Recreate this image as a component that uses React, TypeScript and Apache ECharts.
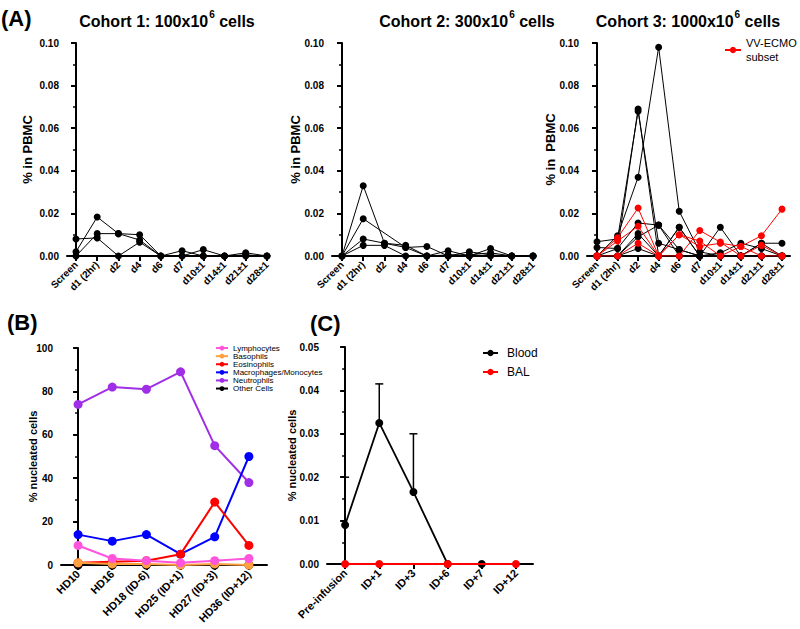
import React, { useEffect, useRef } from "react";
import * as echarts from "echarts";

// ---------- Panel A ----------
const catsA = ["Screen", "d1 (2hr)", "d2", "d4", "d6", "d7", "d10±1", "d14±1", "d21±1", "d28±1"];
const yTicksA = [0, 0.02, 0.04, 0.06, 0.08, 0.1];

const cohort1 = [
  [0.002, 0.0183, 0.0105, 0.010, 0, 0.0025, 0, 0, 0.0015, 0],
  [0, 0.0105, 0.0105, 0.0075, 0, 0, 0.003, 0, 0.0005, 0],
  [0.008, 0.0085, 0, 0.0065, 0, 0, 0, 0, 0, 0],
];
const cohort2 = [
  [0, 0.033, 0.006, 0.005, 0, 0.0025, 0, 0.0035, 0, 0],
  [0, 0.0175, null, 0.004, 0.0045, 0, 0.002, 0.0005, 0, 0],
  [0, 0.008, 0.006, 0.004, 0, 0.0005, 0.0005, 0.0015, 0, 0],
  [0, 0.005, 0.005, 0, 0, 0, 0, 0, 0, 0],
];
const cohort3Black = [
  [0.004, 0.0035, 0.069, 0, 0.0135, 0, 0.0135, 0, 0.006, 0.006],
  [0.0067, 0.008, 0.068, 0.006, 0.003, 0, 0.0015, 0.006, 0.0035, 0],
  [0, 0.0095, 0.037, 0.098, 0.021, 0.002, 0, 0, 0, 0],
  [0, 0.0035, 0.0155, 0.0145, 0, 0, 0, 0, 0, 0],
  [0, 0, 0.0105, 0, 0.0135, 0, 0, 0, 0.006, 0],
  [0, 0, 0.009, 0.0145, 0.003, 0, 0, 0, 0, 0],
  [0, 0, 0.0035, 0, 0, 0, 0, 0, 0, 0],
];
const cohort3Red = [
  [0, 0.0085, 0.0225, 0, 0.010, 0.0045, 0.006, 0.0045, 0.0095, 0.022],
  [0, 0.007, 0.014, 0, 0, 0.012, 0.0065, 0, 0.005, 0],
  [0, 0, 0.006, 0, 0.010, 0.007, 0, 0.0045, 0, 0],
];

// ---------- Panel B ----------
const catsB = ["HD10", "HD16", "HD18 (ID-6)", "HD25 (ID+1)", "HD27 (ID+3)", "HD36 (ID+12)"];
const lymphocytes = [9, 3, 2, 1, 2, 3];
const basophils = [1, 0.5, 0.5, 0, 0.5, 0];
const eosinophils = [1, 1.5, 2, 5, 29, 9];
const macrophages = [14, 11, 14, 5, 13, 50];
const neutrophils = [74, 82, 81, 89, 55, 38];
const otherCells = [0, 0, 0, 0, 0, 0];

// ---------- Panel C ----------
const catsC = ["Pre-infusion", "ID+1", "ID+3", "ID+6", "ID+7", "ID+12"];
const blood = [0.009, 0.0325, 0.0166, 0, 0, null];
const bloodUpper = [0.020, 0.0415, 0.030, null, null, null];
const bal = [0, 0, null, 0, null, 0];

const FONT = 'Arial, "Liberation Sans", Helvetica, sans-serif';

function pts(arr: (number | null)[]) {
  const out: number[][] = [];
  arr.forEach((v, i) => {
    if (v !== null && v !== undefined) out.push([i, v]);
  });
  return out;
}

function lineSeries(name: string, arr: (number | null)[], axis: number, color: string, size: number, width: number, z = 2) {
  return {
    type: "line",
    name,
    xAxisIndex: axis,
    yAxisIndex: axis,
    data: pts(arr),
    symbol: "circle",
    symbolSize: size,
    z,
    itemStyle: { color },
    lineStyle: { color, width },
    emphasis: { disabled: true },
    silent: true,
  };
}

function xAxis(grid: number, min: number, max: number, cats: string[], fontSize: number) {
  const vals = cats.map((_, i) => i);
  return {
    type: "value",
    gridIndex: grid,
    min,
    max,
    splitLine: { show: false },
    axisLine: { show: true, lineStyle: { color: "#000", width: 2 } },
    axisTick: { show: true, customValues: vals, length: 5, lineStyle: { color: "#000", width: 2 } },
    axisLabel: {
      customValues: vals,
      formatter: (v: number) => cats[Math.round(v)] ?? "",
      rotate: 45,
      margin: 7,
      color: "#000",
      fontWeight: "bold",
      fontSize,
      fontFamily: FONT,
    },
  };
}

function yAxis(grid: number, max: number, interval: number, name: string, nameGap: number, nameSize: number, digits: number) {
  return {
    type: "value",
    gridIndex: grid,
    min: 0,
    max,
    interval,
    name,
    nameLocation: "middle",
    nameGap,
    nameMoveOverlap: false,
    nameTextStyle: { color: "#000", fontWeight: "bold", fontSize: nameSize, fontFamily: FONT },
    splitLine: { show: false },
    axisLine: { show: true, lineStyle: { color: "#000", width: 2 } },
    axisTick: { show: true, length: 5, lineStyle: { color: "#000", width: 2 } },
    minorTick: { show: true, splitNumber: 2, length: 3, lineStyle: { color: "#000", width: 1.5 } },
    axisLabel: {
      margin: 8,
      color: "#000",
      fontWeight: "bold",
      fontSize: 10,
      fontFamily: FONT,
      formatter: (v: number) => v.toFixed(digits),
    },
  };
}

function titleText(x: number, y: number, pre: string, sup: string, post: string) {
  return {
    type: "text",
    x,
    y,
    style: {
      text: `{a|${pre}}{s|${sup}}{a|${post}}`,
      align: "center",
      verticalAlign: "middle",
      rich: {
        a: { fontSize: 16, fontWeight: "bold", fontFamily: FONT, fill: "#000", lineHeight: 20, verticalAlign: "bottom" },
        s: { fontSize: 10, fontWeight: "bold", fontFamily: FONT, fill: "#000", lineHeight: 20, verticalAlign: "top", padding: [0, 0, 0, 1] },
      },
    },
  };
}

function panelLabel(x: number, y: number, t: string) {
  return {
    type: "text",
    x,
    y,
    style: { text: t, fontSize: 22, fontWeight: "bold", fontFamily: FONT, fill: "#000", verticalAlign: "middle" },
  };
}

export default function App() {
  const ref = useRef<HTMLDivElement>(null);
  useEffect(() => {
    if (!ref.current) return;
    const chart = echarts.init(ref.current, null, { renderer: "svg" });

    const series: any[] = [];
    cohort1.forEach((p, i) => series.push(lineSeries("c1-" + i, p, 0, "#000", 7, 1)));
    cohort2.forEach((p, i) => series.push(lineSeries("c2-" + i, p, 1, "#000", 7, 1)));
    cohort3Black.forEach((p, i) => series.push(lineSeries("c3b-" + i, p, 2, "#000", 7, 1)));
    cohort3Red.forEach((p) => series.push(lineSeries("VV-ECMO\nsubset", p, 2, "#ff0000", 7, 1, 3)));

    series.push(lineSeries("Other Cells", otherCells, 3, "#000", 9, 2, 2));
    series.push(lineSeries("Neutrophils", neutrophils, 3, "#a02ee6", 9, 2, 3));
    series.push(lineSeries("Macrophages/Monocytes", macrophages, 3, "#0000ff", 9, 2, 4));
    series.push(lineSeries("Eosinophils", eosinophils, 3, "#ff0000", 9, 2, 5));
    series.push(lineSeries("Basophils", basophils, 3, "#ffa040", 9, 2, 6));
    series.push(lineSeries("Lymphocytes", lymphocytes, 3, "#ff55dd", 9, 2, 7));

    series.push({
      type: "custom",
      xAxisIndex: 4,
      yAxisIndex: 4,
      silent: true,
      z: 1,
      data: blood
        .map((v, i) => (v !== null && bloodUpper[i] !== null ? [i, v, bloodUpper[i]] : null))
        .filter((d) => d !== null),
      renderItem: (params: any, api: any) => {
        const p = api.coord([api.value(0), api.value(1)]);
        const t = api.coord([api.value(0), api.value(2)]);
        const st = { stroke: "#000", lineWidth: 1.5 };
        return {
          type: "group",
          children: [
            { type: "line", shape: { x1: p[0], y1: p[1], x2: t[0], y2: t[1] }, style: st },
            { type: "line", shape: { x1: t[0] - 4, y1: t[1], x2: t[0] + 4, y2: t[1] }, style: st },
          ],
        };
      },
    });
    series.push(lineSeries("Blood", blood, 4, "#000", 8, 1.8, 2));
    series.push(lineSeries("BAL", bal, 4, "#ff0000", 8, 1.8, 3));

    const option: any = {
      animation: false,
      textStyle: { fontFamily: FONT },
      grid: [
        { left: 67, top: 43, width: 201, height: 213 },
        { left: 332, top: 43, width: 203, height: 213 },
        { left: 587, top: 43, width: 203, height: 213 },
        { left: 61, top: 348, width: 206, height: 217 },
        { left: 327, top: 347, width: 206, height: 217 },
      ],
      xAxis: [
        xAxis(0, -0.424, 9.05, catsA, 10),
        xAxis(1, -0.471, 9.094, catsA, 10),
        xAxis(2, -0.486, 9.39, catsA, 10),
        xAxis(3, -0.5, 5.53, catsB, 11),
        xAxis(4, -0.53, 5.5, catsC, 11),
      ],
      yAxis: [
        yAxis(0, yTicksA[5], 0.02, "% in PBMC", 33, 13, 2),
        yAxis(1, yTicksA[5], 0.02, "% in PBMC", 30, 13, 2),
        yAxis(2, yTicksA[5], 0.02, "% in  PBMC", 30, 13, 2),
        yAxis(3, 100, 20, "% nucleated cells", 23, 11, 0),
        yAxis(4, 0.05, 0.01, "% nucleated cells", 30, 11, 2),
      ],
      legend: [
        {
          data: ["VV-ECMO\nsubset"],
          selectedMode: false,
          orient: "vertical",
          left: 724,
          top: 36,
          padding: 0,
          itemWidth: 16,
          itemHeight: 8,
          textStyle: { fontSize: 11, lineHeight: 14, color: "#000", fontFamily: FONT },
        },
        {
          data: ["Lymphocytes", "Basophils", "Eosinophils", "Macrophages/Monocytes", "Neutrophils", "Other Cells"],
          selectedMode: false,
          orient: "vertical",
          left: 215,
          top: 344,
          padding: 0,
          itemGap: 0,
          itemWidth: 12,
          itemHeight: 6,
          textStyle: { fontSize: 8, lineHeight: 8.1, color: "#000", fontFamily: FONT },
        },
        {
          data: ["Blood", "BAL"],
          selectedMode: false,
          orient: "vertical",
          left: 482,
          top: 346,
          padding: 0,
          itemGap: 5,
          itemWidth: 15,
          itemHeight: 8,
          textStyle: { fontSize: 12, lineHeight: 14, color: "#000", fontFamily: FONT, padding: [0, 0, 0, 4] },
        },
      ],
      graphic: [
        panelLabel(1, 18, "(A)"),
        panelLabel(7, 322, "(B)"),
        panelLabel(310, 323, "(C)"),
        titleText(167, 19, "Cohort 1: 100x10", "6", " cells"),
        titleText(467, 19, "Cohort 2: 300x10", "6", " cells"),
        titleText(688, 19, "Cohort 3: 1000x10", "6", " cells"),
      ],
      series,
    };
    chart.setOption(option);
    return () => chart.dispose();
  }, []);
  return <div ref={ref} style={{ position: "absolute", left: 0, top: 0, width: 800, height: 629 }} />;
}
